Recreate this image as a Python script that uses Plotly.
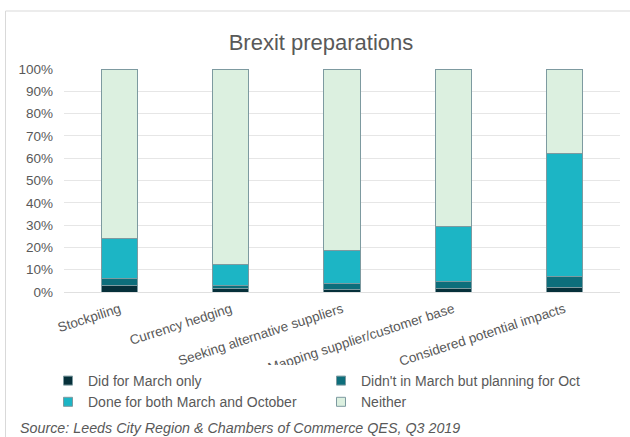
import plotly.graph_objects as go

categories = ["Stockpiling", "Currency hedging", "Seeking alternative suppliers",
              "Mapping supplier/customer base", "Considered potential impacts"]
march_only = [0.03, 0.015, 0.012, 0.014, 0.019]
planning_oct = [0.029, 0.014, 0.027, 0.033, 0.052]
both = [0.179, 0.094, 0.149, 0.249, 0.551]
neither = [0.762, 0.877, 0.812, 0.704, 0.378]

series = [
    ("Did for March only", march_only, "#06303a"),
    ("Didn't in March but planning for Oct", planning_oct, "#0d6e7b"),
    ("Done for both March and October", both, "#1cb5c5"),
    ("Neither", neither, "#dcf0e0"),
]

FONT = "Liberation Sans, Arial, sans-serif"
GREY = "#595959"

fig = go.Figure()
for name, vals, col in series:
    fig.add_trace(go.Bar(
        x=categories, y=vals, name=name,
        marker=dict(color=col, line=dict(color="#7d9aa0", width=1)),
        showlegend=False,
    ))
# legend entries with small square symbols
for name, vals, col in series:
    fig.add_trace(go.Scatter(
        x=[None], y=[None], mode="markers", name=name,
        marker=dict(symbol="square", size=9, color=col,
                    line=dict(color="#7d9aa0", width=1)),
        hoverinfo="skip",
    ))

fig.update_layout(
    width=630, height=437,
    barmode="stack", bargap=0.675,
    margin=dict(l=64, r=10, t=69, b=145, autoexpand=False),
    paper_bgcolor="white", plot_bgcolor="white",
    font=dict(family=FONT, size=13.5, color=GREY),
    title=dict(text="Brexit preparations", font=dict(size=22, color=GREY),
               x=321/630, xref="container", xanchor="center",
               y=1-42/437, yref="container", yanchor="middle"),
    xaxis=dict(categoryorder="array", categoryarray=categories,
               tickangle=-18, showgrid=False, showline=False, ticks="",
               ticklabelstandoff=6,
               tickfont=dict(size=13.5, color=GREY)),
    yaxis=dict(range=[0, 1.0001], dtick=0.1, tickformat=".0%",
               showgrid=True, gridcolor="#e6e6e6", gridwidth=1,
               zeroline=True, zerolinecolor="#e0e0e0", zerolinewidth=1,
               showline=False, ticks="", ticklabelstandoff=10,
               tickfont=dict(size=13.5, color=GREY)),
    legend=dict(orientation="h", x=(48 - 64) / 556, xanchor="left",
                y=(292 - 365) / 223, yanchor="top",
                entrywidth=228, entrywidthmode="pixels",
                traceorder="normal",
                font=dict(size=14, color=GREY), itemwidth=30,
                tracegroupgap=0),
    shapes=[dict(type="rect", xref="paper", yref="paper",
                 x0=(5.5 - 64) / 556, x1=(645 - 64) / 556,
                 y0=(292 - 450) / 223, y1=(292 - 11) / 223,
                 line=dict(color="#d9d9d9", width=1), fillcolor="rgba(0,0,0,0)",
                 layer="below")],
    annotations=[dict(text="<i>Source: Leeds City Region &amp; Chambers of Commerce QES, Q3 2019</i>",
                      xref="paper", yref="paper",
                      x=(18 - 64) / 556, xanchor="left",
                      y=(292 - 428) / 223, yanchor="middle",
                      showarrow=False, font=dict(size=14.3, color=GREY))],
)

fig.write_html("out.html", config={"displayModeBar": False},
               post_script="document.body.style.margin='0';document.body.style.overflow='hidden';")
